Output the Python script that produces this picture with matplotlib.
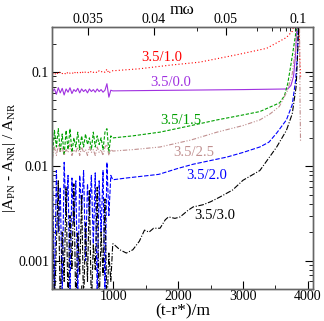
import numpy as np
import matplotlib
matplotlib.use('Agg')
import matplotlib.pyplot as plt
from matplotlib.ticker import MultipleLocator, LogLocator, NullFormatter

plt.rcParams['font.family'] = 'Liberation Serif'
plt.rcParams['mathtext.fontset'] = 'custom'
plt.rcParams['mathtext.rm'] = 'Liberation Serif'

# --- early, oscillating part (t < 1000) ---
t_early = [60, 90, 120, 150, 180, 210, 240, 270, 300, 330, 360, 390, 420, 450, 480, 510,
           540, 570, 600, 630, 660, 690, 720, 750, 780, 810, 840, 870, 900, 930, 960, 990]

red_early = [0.097, 0.093, 0.099, 0.095, 0.1, 0.096, 0.098, 0.094, 0.1, 0.097, 0.099, 0.095,
             0.101, 0.098, 0.1, 0.096, 0.102, 0.099, 0.1, 0.097, 0.102, 0.099, 0.101, 0.098,
             0.103, 0.1, 0.102, 0.099, 0.107, 0.097, 0.102, 0.103]
purple_early = [0.062, 0.066, 0.058, 0.068, 0.06, 0.067, 0.057, 0.066, 0.061, 0.068, 0.059, 0.065,
                0.062, 0.067, 0.06, 0.066, 0.062, 0.065, 0.06, 0.066, 0.062, 0.065, 0.061, 0.066,
                0.062, 0.065, 0.061, 0.064, 0.075, 0.054, 0.064, 0.063]
green_early = [0.013, 0.024, 0.016, 0.025, 0.014, 0.022, 0.013, 0.024, 0.015, 0.025, 0.014, 0.02,
               0.016, 0.023, 0.015, 0.021, 0.016, 0.022, 0.017, 0.02, 0.015, 0.023, 0.016, 0.021,
               0.017, 0.02, 0.015, 0.023, 0.025, 0.014, 0.021, 0.02]
brown_early = [0.012, 0.016, 0.013, 0.017, 0.014, 0.016, 0.013, 0.015, 0.014, 0.017, 0.013, 0.015,
               0.014, 0.016, 0.013, 0.016, 0.014, 0.015, 0.013, 0.016, 0.014, 0.015, 0.013, 0.016,
               0.014, 0.015, 0.013, 0.016, 0.017, 0.013, 0.015, 0.0145]
blue_early = [0.01, 0.0004, 0.009, 0.002, 0.006, 0.0004, 0.011, 0.003, 0.008, 0.0004, 0.0075, 0.0025,
              0.007, 0.0004, 0.008, 0.0035, 0.009, 0.001, 0.0065, 0.003, 0.008, 0.0015, 0.0085, 0.0004,
              0.007, 0.002, 0.009, 0.0004, 0.011, 0.003, 0.008, 0.0072]
black_early = [0.004, 0.0003, 0.0015, 0.007, 0.0003, 0.002, 0.0006, 0.006, 0.0003, 0.003, 0.0008, 0.0065,
               0.0003, 0.002, 0.0007, 0.005, 0.0003, 0.0025, 0.0006, 0.0055, 0.0003, 0.0015, 0.0008, 0.006,
               0.0003, 0.002, 0.0007, 0.0045, 0.0003, 0.0012, 0.0006, 0.0015]

# --- late, smooth part (t >= 1000) ---
t_red = [1000, 1400, 1870, 2330, 2900, 3365, 3670, 3760, 3830, 3860, 3875, 3890]
red_late = [0.103, 0.108, 0.118, 0.127, 0.152, 0.178, 0.232, 0.27, 0.4, 0.6, 0.15, 0.085]

t_purple = [1000, 2000, 3000, 3690, 3740, 3780, 3810, 3830, 3845]
purple_late = [0.063, 0.064, 0.065, 0.066, 0.072, 0.09, 0.15, 0.3, 0.5]

t_green = [1000, 1300, 1720, 2200, 2600, 3000, 3260, 3565, 3640, 3690, 3740, 3790, 3830, 3850]
green_late = [0.02, 0.021, 0.023, 0.027, 0.031, 0.035, 0.038, 0.047, 0.056, 0.075, 0.12, 0.2, 0.3, 0.5]

t_brown = [1000, 1300, 1720, 2200, 2600, 3000, 3260, 3420, 3560, 3680, 3760, 3820, 3850, 3870, 3880, 3888]
brown_late = [0.0145, 0.015, 0.016, 0.019, 0.023, 0.027, 0.031, 0.036, 0.043, 0.062, 0.095, 0.2, 0.5, 0.5,
              0.05, 0.018]

t_blue = [1000, 1200, 1700, 2000, 2230, 2500, 2750, 3000, 3260, 3400, 3520, 3670, 3760, 3810, 3840, 3860]
blue_late = [0.0072, 0.0075, 0.0082, 0.0095, 0.0105, 0.0115, 0.0125, 0.014, 0.016, 0.018, 0.0225,
             0.031, 0.045, 0.08, 0.15, 0.5]

t_black = [1000, 1100, 1200, 1300, 1400, 1480, 1550, 1620, 1720, 1800, 1850, 1950, 2030, 2150, 2230,
           2380, 2500, 2640, 2840, 3000, 3260, 3520, 3670, 3760, 3820, 3850, 3860]
black_late = [0.0015, 0.0013, 0.0012, 0.0013, 0.0016, 0.0021, 0.002, 0.0022, 0.0022, 0.0027, 0.0029,
              0.0028, 0.0029, 0.0034, 0.0037, 0.0039, 0.0042, 0.0047, 0.0056, 0.0071, 0.009, 0.016,
              0.024, 0.036, 0.07, 0.2, 0.5]

labels = ['3.5/1.0', '3.5/0.0', '3.5/1.5', '3.5/2.5', '3.5/2.0', '3.5/3.0']
label_t = [1750, 1890, 2040, 2240, 2440, 2565]
label_y = [0.141, 0.0764, 0.0309, 0.0141, 0.0080, 0.0030]

# top axis (m omega) ticks, at (t-r*)/m positions
top_pos = [612, 1626, 2734, 3850]
top_lab = ['0.035', '0.04', '0.05', '0.1']
top_minor = [2290, 3215, 3446, 3570, 3662, 3723, 3800]

colors = ['#ff0000', '#a030e0', '#00a000', '#c09090', '#0000ff', '#000000']
styles = [(0, (1, 2)), '-', (0, (3, 1.5)), (0, (4, 1.5, 1, 1.5, 1, 1.5)), (0, (4, 1.5)), (0, (5, 1.5, 1, 1.5))]

series = [
    (red_early, t_red, red_late),
    (purple_early, t_purple, purple_late),
    (green_early, t_green, green_late),
    (brown_early, t_brown, brown_late),
    (blue_early, t_blue, blue_late),
    (black_early, t_black, black_late),
]

fig = plt.figure(figsize=(3.24, 3.21), dpi=100)
ax = fig.add_axes([0.160, 0.100, 0.806, 0.816])

for (early, tl, late), c, ls in zip(series, colors, styles):
    ax.plot(list(t_early) + tl, early + late, color=c, ls=ls, lw=0.8)

for lab, tx, ty, c in zip(labels, label_t, label_y, colors):
    ax.text(tx, ty, lab, color=c, fontsize=10.5, ha='center', va='center')

ax.set_yscale('log')
ax.set_xlim(50, 4080)
ax.set_ylim(0.0005, 0.3)
ax.xaxis.set_major_locator(MultipleLocator(1000))
ax.xaxis.set_minor_locator(MultipleLocator(500))
ax.yaxis.set_minor_locator(LogLocator(base=10, subs=np.arange(2, 10), numticks=10))
ax.yaxis.set_minor_formatter(NullFormatter())
ax.set_yticks([0.001, 0.01, 0.1])
ax.set_yticklabels(['0.001', '0.01', '0.1'])
ax.tick_params(which='both', direction='in', right=True, labelsize=10)
ax.tick_params(axis='x', pad=1)
ax.tick_params(axis='y', pad=2)
ax.tick_params(which='major', length=6)
ax.tick_params(which='minor', length=3)
ax.set_xlabel('(t-r*)/m', fontsize=12.5, labelpad=0)
ax.set_ylabel(r'|A$_{\rm PN}$ - A$_{\rm NR}$| / A$_{\rm NR}$', fontsize=11, labelpad=0)

ax2 = ax.twiny()
ax2.set_xlim(ax.get_xlim())
ax2.set_xticks(top_pos)
ax2.set_xticklabels(top_lab)
ax2.set_xticks(top_minor, minor=True)
ax2.tick_params(which='both', direction='in', labelsize=10, pad=1)
ax2.tick_params(which='major', length=6)
ax2.tick_params(which='minor', length=3)
ax2.set_xlabel('mω', fontsize=12.5, labelpad=-1)

for a in (ax, ax2):
    for s in a.spines.values():
        s.set_color('#666666')
        s.set_linewidth(1.0)

fig.savefig('out.png', dpi=100)
